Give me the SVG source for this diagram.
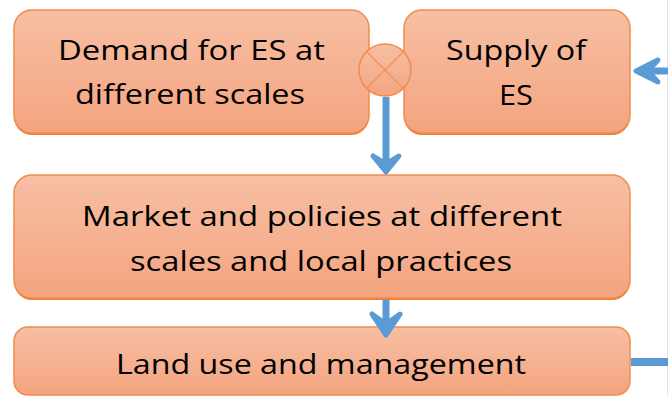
<svg xmlns="http://www.w3.org/2000/svg" width="668" height="396" viewBox="0 0 668 396">
<defs>
<linearGradient id="g" x1="0" y1="0" x2="0" y2="1">
<stop offset="0" stop-color="#F7BFA4"/>
<stop offset="1" stop-color="#F4A47F"/>
</linearGradient>
<style>
.sh{fill:#ED7D31}
.bx{fill:url(#g);stroke:#F08C50;stroke-width:1.5}
.t{font-family:"Open Sans","Liberation Sans",Arial,sans-serif;font-size:28px;fill:#000;text-anchor:middle}
.ln{stroke:#5B9BD5;stroke-width:7;fill:none}
.hd{fill:#5B9BD5;stroke:#5B9BD5;stroke-width:5;stroke-linejoin:round}
</style>
</defs>
<rect width="668" height="396" fill="#fff"/>
<line x1="667.5" y1="0" x2="667.5" y2="396" stroke="#E3E6EA" stroke-width="1"/>
<g id="demand">
<rect class="sh" x="14" y="12" width="355" height="123" rx="18"/>
<rect class="bx" x="14" y="10" width="355" height="123" rx="18"/>
<text class="t" x="191.5" y="60" textLength="267" lengthAdjust="spacingAndGlyphs">Demand for ES at</text>
<text class="t" x="190" y="104" textLength="230" lengthAdjust="spacingAndGlyphs">different scales</text>
</g>
<g id="supply">
<rect class="sh" x="404" y="12" width="226" height="123" rx="18"/>
<rect class="bx" x="404" y="10" width="226" height="123" rx="18"/>
<text class="t" x="516" y="60" textLength="140" lengthAdjust="spacingAndGlyphs">Supply of</text>
<text class="t" x="516" y="105" textLength="34" lengthAdjust="spacingAndGlyphs">ES</text>
</g>
<g id="combine">
<circle cx="385" cy="70" r="26" fill="url(#g)" stroke="#F08C50" stroke-width="1.5"/>
<path d="M366.6,51.6 L403.4,88.4 M403.4,51.6 L366.6,88.4" stroke="#F08C50" stroke-width="1.2"/>
</g>
<g id="market">
<rect class="sh" x="14" y="177" width="616" height="123" rx="18"/>
<rect class="bx" x="14" y="175" width="616" height="123" rx="18"/>
<text class="t" x="322" y="226" textLength="480" lengthAdjust="spacingAndGlyphs">Market and policies at different</text>
<text class="t" x="321" y="271" textLength="382" lengthAdjust="spacingAndGlyphs">scales and local practices</text>
</g>
<g id="landuse">
<rect class="bx" x="14" y="327" width="616" height="68" rx="14"/>
<text class="t" x="321" y="374" textLength="410" lengthAdjust="spacingAndGlyphs">Land use and management</text>
</g>
<g id="connectors">
<line class="ln" x1="386" y1="97" x2="386" y2="166"/>
<path class="hd" d="M373,156 L386,172 L399,156 L386,164 Z"/>
<line class="ln" x1="386" y1="300" x2="386" y2="326"/>
<path class="hd" d="M372,314 L386,335 L400,314 L386,324 Z"/>
<line class="ln" x1="642" y1="71" x2="668" y2="71"/>
<path class="hd" d="M658,60 L636,71 L658,82 L648,71 Z"/>
<line class="ln" x1="631" y1="362" x2="668" y2="362" style="stroke-width:8"/>
</g>
</svg>
